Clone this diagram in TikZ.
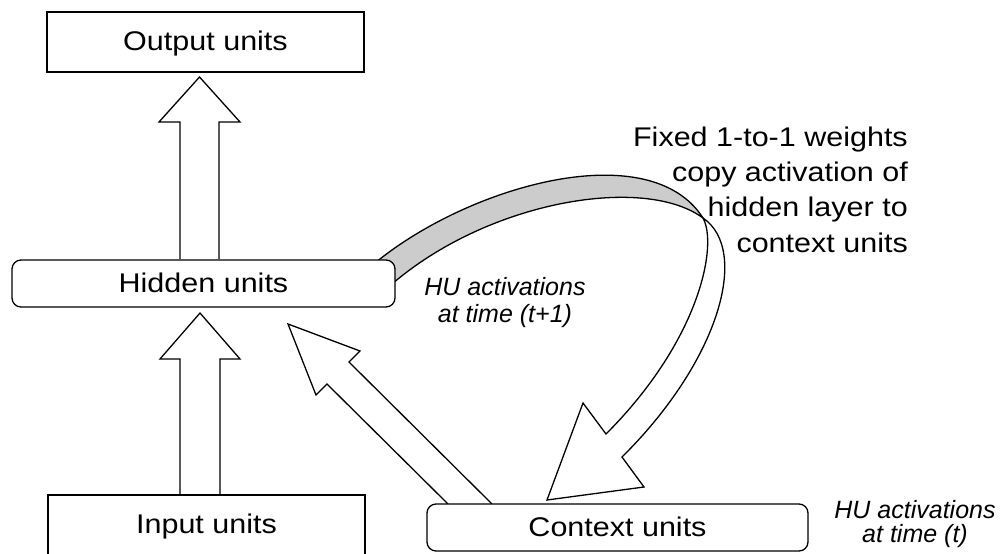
\documentclass[tikz,border=0pt]{standalone}
\usepackage{fontspec}
\setmainfont{Liberation Sans}[FakeStretch=1.13]
\newfontfamily\hufont{Liberation Sans}
\begin{document}
\begin{tikzpicture}[x=1pt,y=-1pt,
  unitbox/.style={draw, line width=1.3pt, fill=white, inner sep=0pt,
    text height=18pt, text depth=1pt, font=\fontsize{27}{30}\selectfont},
  roundbox/.style={unitbox, rounded corners=9pt},
  blockarrow/.style={draw, fill=white, line width=1.3pt, line join=miter},
  band/.style={draw, fill=gray!40, line width=1.3pt},
  note/.style={font=\fontsize{27}{30}\selectfont, anchor=base east, inner sep=0pt},
  hulbl/.style={font=\hufont\itshape\fontsize{25}{30}\selectfont, anchor=base, inner sep=0pt}]
\useasboundingbox (0,0) rectangle (1001,554);
\clip (0,0) rectangle (1001,554);

% twisted recurrent band (grey side, then white side with head)
\path[band] (375,263) .. controls (470,185) and (650,135) .. (703,218)
   .. controls (645,175) and (490,200) .. (392,284) -- cycle;
\path[blockarrow] (703,218) .. controls (718,245) and (700,340) .. (606,434)
   -- (583,403) -- (547,500) -- (644,487) -- (622,457)
   .. controls (720,360) and (750,250) .. (703,218) -- cycle;

% block arrows
\path[blockarrow] (180,259) -- (180,122) -- (159,122) -- (199.5,77) -- (240,122) -- (219,122) -- (219,259);
\path[blockarrow] (180,495) -- (180,359) -- (160,359) -- (200,313) -- (240,359) -- (220,359) -- (220,495);
\path[blockarrow] (448,504) -- (327,384) -- (316,395) -- (288,324) -- (360,351) -- (349,362) -- (492,504);

% boxes
\node[unitbox, minimum width=317pt, minimum height=60pt] (out) at (205.5,42) {Output units};
\node[roundbox, minimum width=383pt, minimum height=47pt] (hid) at (203.5,283.5) {Hidden units};
\node[unitbox, minimum width=317pt, minimum height=60pt] (inp) at (206.5,525) {Input units};
\node[roundbox, minimum width=381pt, minimum height=47pt] (ctx) at (617.5,527.5) {Context units};

% annotations
\node[note] (f1) at (908,146) {Fixed 1-to-1 weights};
\node[note] (f2) at (908,181.3) {copy activation of};
\node[note] (f3) at (908,216.6) {hidden layer to};
\node[note] (f4) at (908,252) {context units};

\node[hulbl] (h1) at (505,295) {HU activations};
\node[hulbl] (h2) at (505,322) {at time (t+1)};
\node[hulbl] (c1) at (915,518) {HU activations};
\node[hulbl] (c2) at (915,542) {at time (t)};
\end{tikzpicture}
\end{document}
